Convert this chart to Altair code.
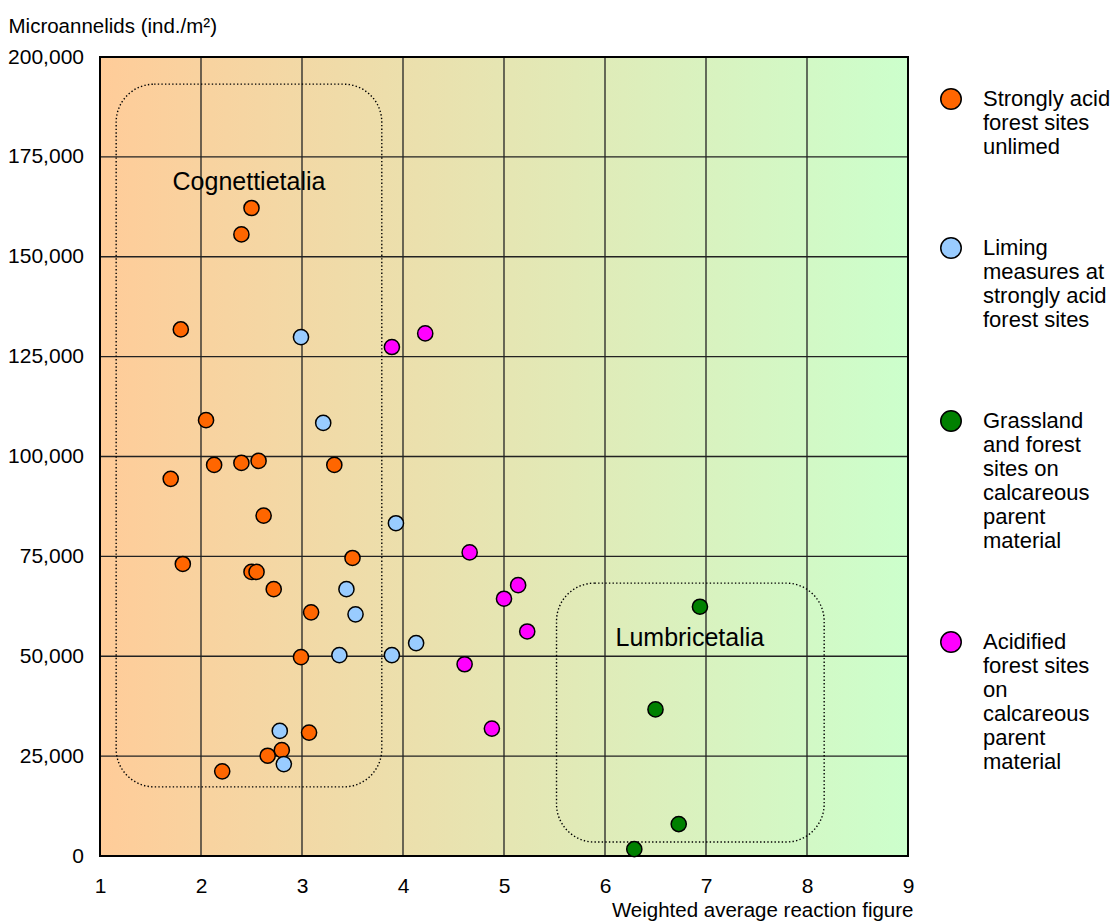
import altair as alt
import pandas as pd

FONT = "Liberation Sans, Arial, sans-serif"

# ---- axes ----
X_DOMAIN = [1, 9]
Y_DOMAIN = [0, 200000]
X_TICKS = [1, 2, 3, 4, 5, 6, 7, 8, 9]
Y_TICKS = [0, 25000, 50000, 75000, 100000, 125000, 150000, 175000, 200000]
X_GRID = [2, 3, 4, 5, 6, 7, 8]
Y_GRID = [25000, 50000, 75000, 100000, 125000, 150000, 175000]
X_TITLE = "Weighted average reaction figure"
Y_TITLE = "Microannelids (ind./m²)"

# ---- series ----
CATEGORIES = [
    "Strongly acid|forest sites|unlimed",
    "Liming|measures at|strongly acid|forest sites",
    "Grassland|and forest|sites on|calcareous|parent|material",
    "Acidified|forest sites|on|calcareous|parent|material",
]
COLORS = ["#FF6600", "#99CCFF", "#008000", "#FF00FF"]

UNLIMED_X = [2.50, 2.40, 1.80, 2.05, 1.70, 2.13, 2.40, 2.57, 3.32, 2.62, 1.82,
             2.50, 2.55, 3.50, 2.72, 3.09, 2.99, 3.07, 2.80, 2.66, 2.21]
UNLIMED_Y = [162200, 155600, 131800, 109100, 94400, 97900, 98400, 98900, 97900, 85200, 73100,
             71100, 71100, 74600, 66800, 61000, 49800, 30900, 26500, 25100, 21200]

LIMED_X = [2.99, 3.21, 3.93, 3.44, 3.53, 3.37, 3.89, 4.13, 2.78, 2.82]
LIMED_Y = [129900, 108400, 83300, 66800, 60500, 50300, 50300, 53300, 31300, 23000]

CALC_X = [6.94, 6.50, 6.73, 6.29]
CALC_Y = [62400, 36700, 8000, 1700]

ACIDIFIED_X = [3.89, 4.22, 4.66, 5.14, 5.00, 5.23, 4.61, 4.88]
ACIDIFIED_Y = [127400, 130800, 76000, 67800, 64400, 56200, 48000, 31900]

# ---- annotation boxes and labels ----
BOX_X1 = [1.16, 5.52]
BOX_X2 = [3.79, 8.17]
BOX_Y1 = [17300, 3500]
BOX_Y2 = [193200, 68300]
ANNOT_TEXT = ["Cognettietalia", "Lumbricetalia"]
ANNOT_X = [2.475, 6.84]
ANNOT_Y = [168600, 54500]

GRAD_LEFT = "#FFCC99"
GRAD_RIGHT = "#CCFFCC"

# ---- tables ----
xs = [UNLIMED_X, LIMED_X, CALC_X, ACIDIFIED_X]
ys = [UNLIMED_Y, LIMED_Y, CALC_Y, ACIDIFIED_Y]
rows = []
for cat, xv, yv in zip(CATEGORIES, xs, ys):
    for a, b in zip(xv, yv):
        rows.append({"x": a, "y": b, "group": cat})
points_df = pd.DataFrame(rows)

bg_df = pd.DataFrame({"x1": [X_DOMAIN[0]], "x2": [X_DOMAIN[1]],
                      "y1": [Y_DOMAIN[0]], "y2": [Y_DOMAIN[1]]})
vgrid_df = pd.DataFrame({"x": X_GRID})
hgrid_df = pd.DataFrame({"y": Y_GRID})
box_df = pd.DataFrame({"x1": BOX_X1, "x2": BOX_X2, "y1": BOX_Y1, "y2": BOX_Y2})
annot_df = pd.DataFrame({"x": ANNOT_X, "y": ANNOT_Y, "t": ANNOT_TEXT})

xscale = alt.Scale(domain=X_DOMAIN, nice=False, zero=False)
yscale = alt.Scale(domain=Y_DOMAIN, nice=False, zero=False)

xaxis = alt.Axis(values=X_TICKS, title=X_TITLE, grid=False, domain=False, ticks=False,
                 labelFont=FONT, labelFontSize=21, labelColor="black", labelPadding=19,
                 labelFlush=False,
                 titleFont=FONT, titleFontSize=20.5, titleFontWeight="normal", titleColor="black",
                 titleAnchor="end", titleAlign="right", titleX=813, titleY=54,
                 titleBaseline="middle")
yaxis = alt.Axis(values=Y_TICKS, format=",d", title=Y_TITLE, grid=False, domain=False,
                 ticks=False, labelFont=FONT, labelFontSize=21, labelColor="black",
                 labelPadding=16.5, labelFlush=False,
                 titleFont=FONT, titleFontSize=20.5, titleFontWeight="normal", titleColor="black",
                 titleAngle=0, titleAlign="left", titleX=-92, titleY=-31,
                 titleBaseline="middle")

X = lambda f: alt.X(f, type="quantitative", scale=xscale, axis=xaxis)
Y = lambda f: alt.Y(f, type="quantitative", scale=yscale, axis=yaxis)

gradient = alt.Gradient(
    gradient="linear",
    stops=[alt.GradientStop(color=GRAD_LEFT, offset=0), alt.GradientStop(color=GRAD_RIGHT, offset=1)],
    x1=0, x2=1, y1=0, y2=0,
)

bg = alt.Chart(bg_df).mark_rect(fill=gradient).encode(
    x=X("x1"), x2="x2", y=Y("y1"), y2="y2"
)

vgrid = alt.Chart(vgrid_df).mark_rule(color="#222222", strokeWidth=1.3).encode(x=X("x"))
hgrid = alt.Chart(hgrid_df).mark_rule(color="#222222", strokeWidth=1.3).encode(y=Y("y"))

frame = alt.Chart(bg_df).mark_rect(fillOpacity=0, stroke="black", strokeWidth=2).encode(
    x=X("x1"), x2="x2", y=Y("y1"), y2="y2"
)

boxes = alt.Chart(box_df).mark_rect(
    fillOpacity=0, stroke="black", strokeWidth=1.4, strokeDash=[1.4, 2.2], cornerRadius=38
).encode(x=X("x1"), x2="x2", y=Y("y1"), y2="y2")

annots = alt.Chart(annot_df).mark_text(
    font=FONT, fontSize=25, color="black", align="center", baseline="middle"
).encode(x=X("x"), y=Y("y"), text="t:N")

legend = alt.Legend(
    orient="none", legendX=840, legendY=31, title=None, direction="vertical",
    labelExpr="split(datum.label, '|')", labelFont=FONT, labelFontSize=22,
    labelColor="black", labelBaseline="middle", labelOffset=21, labelLimit=400,
    symbolType="circle", symbolSize=420, symbolStrokeColor="black",
    symbolStrokeWidth=1.5, symbolOpacity=1, rowPadding=76, padding=0,
)

points = alt.Chart(points_df).mark_point(
    shape="circle", filled=True, size=230, stroke="black", strokeWidth=1.5, opacity=1
).encode(
    x=X("x"), y=Y("y"),
    color=alt.Color("group:N", scale=alt.Scale(domain=CATEGORIES, range=COLORS), legend=legend),
    order=alt.Order("idx:Q"),
).transform_window(idx="row_number()")

chart = alt.layer(bg, vgrid, hgrid, frame, boxes, annots, points).properties(
    width=808, height=799,
    autosize=alt.AutoSizeParams(type="none"),
    padding={"left": 92, "top": 49, "right": 203, "bottom": 66},
    background="white",
).configure_view(strokeWidth=0)

chart.save("out.html", embed_options={"renderer": "svg", "actions": False})
